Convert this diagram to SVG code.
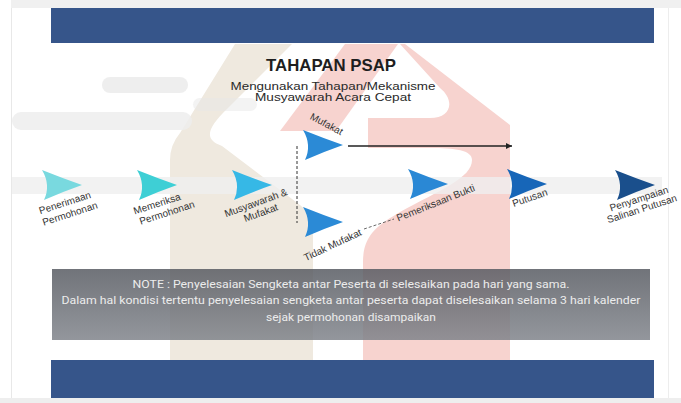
<svg xmlns="http://www.w3.org/2000/svg" width="681" height="403" viewBox="0 0 681 403">
<defs>
<style>
.lbl{font-family:"Liberation Sans",Arial,sans-serif;font-size:10px;fill:#333;text-anchor:middle}
.note{font-family:Roboto,"Liberation Sans",sans-serif;font-size:11px;fill:#ececec;text-anchor:middle}
.bar{fill:#36558a}
</style>
<path id="ah" d="M0,0 Q20,8 40,15 Q20,22 2,30 Q9,15 0,0 Z"/>
<linearGradient id="ng" x1="0" y1="0" x2="0" y2="1">
<stop offset="0" stop-color="#585b62"/>
<stop offset="1" stop-color="#80848b"/>
</linearGradient>
<marker id="arr" markerWidth="8" markerHeight="8" refX="6" refY="4" orient="auto" markerUnits="userSpaceOnUse">
<path d="M0,1 L6,4 L0,7 Z" fill="#222"/>
</marker>
</defs>
<rect width="681" height="403" fill="#ffffff"/>
<rect x="11" y="0" width="670" height="8" fill="#f0f0f0"/>
<line x1="11.5" y1="8" x2="11.5" y2="398" stroke="#e8e8e8"/>
<line x1="668.5" y1="8" x2="668.5" y2="398" stroke="#ededed"/>
<rect x="0" y="398" width="681" height="5" fill="#eeeeee"/>

<g id="watermark">
<path d="M235,44 L292,44 L228,108 C205,130 205,140 222,146 L300,205 Q313,215 313,235 L313,360 L170,360 L170,160 Q170,145 180,133 Z" fill="#efe9df"/>
<path d="M345,44 L398,44 L336,131 L280,131 Z" fill="#f7d3cf"/>
<path d="M405,44 L510,125 L510,360 L363,360 L363,262 C363,235 378,225 400,212 C440,190 472,178 472,160 C472,150 455,148 430,148 L368,148 L368,118 L430,118 C452,118 455,100 440,88 L400,44 Z" fill="#f7d3cf"/>
</g>

<g id="bands">
<rect x="102" y="77" width="86" height="16" rx="8" fill="#ececec" opacity="0.9"/>
<rect x="193" y="98" width="64" height="13" rx="6.5" fill="#e8e8e8" opacity="0.5"/>
<rect x="12" y="112" width="180" height="18" rx="9" fill="#ededed" opacity="0.85"/>
<rect x="12" y="177" width="650" height="17" fill="#efefef" opacity="0.8"/>
</g>

<rect class="bar" x="51" y="8" width="603" height="35"/>
<rect class="bar" x="51" y="360" width="603" height="38"/>

<g id="title">
<text x="331" y="71" font-family="'Liberation Sans',Arial,sans-serif" font-size="17" font-weight="bold" fill="#1e1e1e" text-anchor="middle" textLength="130" lengthAdjust="spacingAndGlyphs">TAHAPAN PSAP</text>
<text x="333" y="89.5" font-family="'Liberation Sans',Arial,sans-serif" font-size="11.5" fill="#2a2a2a" text-anchor="middle" textLength="205" lengthAdjust="spacingAndGlyphs">Mengunakan Tahapan/Mekanisme</text>
<text x="333" y="100.5" font-family="'Liberation Sans',Arial,sans-serif" font-size="11.5" fill="#2a2a2a" text-anchor="middle" textLength="156" lengthAdjust="spacingAndGlyphs">Musyawarah Acara Cepat</text>
</g>

<g id="connectors">
<line x1="297" y1="146" x2="297" y2="223" stroke="#333" stroke-width="1" stroke-dasharray="3,2"/>
<line x1="348" y1="146" x2="512" y2="146" stroke="#222" stroke-width="1.5" marker-end="url(#arr)"/>
<line x1="364" y1="229" x2="394" y2="219" stroke="#444" stroke-width="0.8" stroke-dasharray="3,2"/>
</g>

<g id="n1"><use href="#ah" x="42" y="170" fill="#79d9df"/>
<text class="lbl" transform="translate(66,206) rotate(-18)">Penerimaan</text>
<text class="lbl" transform="translate(71,217) rotate(-18)">Permohonan</text></g>

<g id="n2"><use href="#ah" x="137" y="170" fill="#3ecfd5"/>
<text class="lbl" transform="translate(158,207) rotate(-18)">Memeriksa</text>
<text class="lbl" transform="translate(168,216) rotate(-18)">Permohonan</text></g>

<g id="n3"><use href="#ah" x="232" y="170" fill="#36b8e6"/>
<text class="lbl" transform="translate(257,206) rotate(-20)">Musyawarah &amp;</text>
<text class="lbl" transform="translate(262,216) rotate(-20)">Mufakat</text></g>

<g id="n4"><use href="#ah" x="303" y="130" fill="#2b8ad6"/>
<text class="lbl" transform="translate(325,127) rotate(28)">Mufakat</text></g>

<g id="n5"><use href="#ah" x="303" y="207" fill="#2b8ad6"/>
<text class="lbl" transform="translate(334,248) rotate(-25)">Tidak Mufakat</text></g>

<g id="n6"><use href="#ah" x="408" y="169" fill="#2a88d5"/>
<text class="lbl" transform="translate(437,206) rotate(-22)">Pemeriksaan Bukti</text></g>

<g id="n7"><use href="#ah" x="507" y="169" fill="#1766b8"/>
<text class="lbl" transform="translate(531,201) rotate(-19)">Putusan</text></g>

<g id="n8"><use href="#ah" x="615" y="170" fill="#1a4f8c"/>
<text class="lbl" transform="translate(640,202) rotate(-18)">Penyampaian</text>
<text class="lbl" transform="translate(643,212) rotate(-18)">Salinan Putusan</text></g>

<g id="note">
<rect x="52" y="269" width="598" height="71" fill="url(#ng)" opacity="0.85"/>
<text class="note" x="351" y="288" textLength="437" lengthAdjust="spacingAndGlyphs">NOTE : Penyelesaian Sengketa antar Peserta di selesaikan pada hari yang sama.</text>
<text class="note" x="351" y="304" textLength="579" lengthAdjust="spacingAndGlyphs">Dalam hal kondisi tertentu penyelesaian sengketa antar peserta dapat diselesaikan selama 3 hari kalender</text>
<text class="note" x="351" y="321" textLength="170" lengthAdjust="spacingAndGlyphs">sejak permohonan disampaikan</text>
</g>
</svg>
